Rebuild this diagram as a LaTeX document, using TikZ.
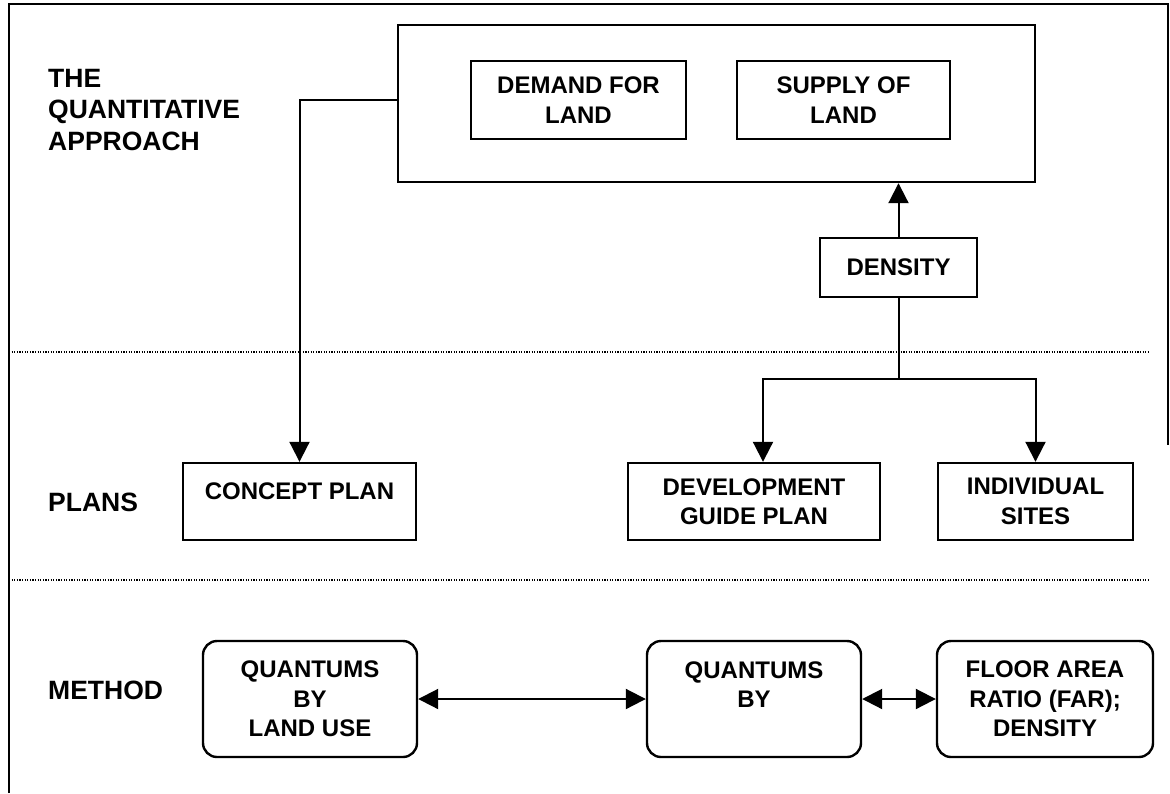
\documentclass[tikz,border=0pt]{standalone}
\usepackage{fontspec}
\setmainfont{Liberation Sans}
\usetikzlibrary{arrows.meta}

\begin{document}
\begin{tikzpicture}[
    x=1pt, y=-1pt,
    box/.style={draw=black, line width=2.4pt, align=center, inner sep=2pt,
        font=\fontsize{24}{29.5}\selectfont\bfseries},
    roundbox/.style={box, rounded corners=14pt},
    label/.style={anchor=west, align=left, inner sep=0pt,
        font=\fontsize{26.5}{31.5}\selectfont\bfseries},
    line/.style={line width=2pt},
    conn/.style={line, -{Triangle[width=20pt,length=20pt]}},
    dbl/.style={line, {Triangle[width=20pt,length=20pt]}-{Triangle[width=20pt,length=20pt]}},
    divider/.style={line width=1.3pt, dash pattern=on 1.2pt off 1.4pt}
]
    \useasboundingbox (0,0) rectangle (1170,793);
    % outer frame
    \draw[line width=2.4pt] (9,793) -- (9,4) -- (1168,4) -- (1168,445);
    \draw[divider] (9,352) -- (1150,352);
    \draw[divider] (9,580) -- (1150,580);

    \node[label] (lapproach) at (48,110) {THE\\QUANTITATIVE\\APPROACH};
    \node[label] (lplans) at (48,502) {PLANS};
    \node[label] (lmethod) at (48,690) {METHOD};

    \node[box, minimum width=637pt, minimum height=157pt] (quant) at (716.5,103.5) {};
    \node[box, minimum width=215pt, minimum height=78pt] (demand) at (578.5,100) {DEMAND FOR\\LAND};
    \node[box, minimum width=213pt, minimum height=78pt] (supply) at (843.5,100) {SUPPLY OF\\LAND};
    \node[box, minimum width=157pt, minimum height=59pt] (density) at (898.5,267.5) {DENSITY};

    \node[box, minimum width=233pt, minimum height=77pt] (concept) at (299.5,501.5) {CONCEPT PLAN\\[-18pt]\strut};
    \node[box, minimum width=252pt, minimum height=77pt] (devplan) at (754,501.5) {DEVELOPMENT\\GUIDE PLAN};
    \node[box, minimum width=195pt, minimum height=77pt] (sites) at (1035.5,501.5) {INDIVIDUAL\\SITES};

    \node[roundbox, minimum width=214pt, minimum height=116pt] (landuse) at (310,699) {QUANTUMS\\BY\\LAND USE};
    \node[roundbox, minimum width=214pt, minimum height=116pt] (quantby) at (754,699) {QUANTUMS\\BY\\[-10pt]\strut};
    \node[roundbox, minimum width=216pt, minimum height=116pt] (far) at (1045,699) {FLOOR AREA\\RATIO (FAR);\\DENSITY};

    \coordinate (split) at (898.5,379);
    \draw[conn] (quant.west |- demand) -| (concept.north);
    \draw[conn] (density.north) -- (quant.south -| density.north);
    \draw[line] (density.south) -- (split);
    \draw[conn] (split) -| ([xshift=9pt]devplan.north);
    \draw[conn] (split) -| (sites.north);
    \draw[dbl] (landuse.east) -- (quantby.west);
    \draw[dbl] (quantby.east) -- (far.west);
\end{tikzpicture}
\end{document}
